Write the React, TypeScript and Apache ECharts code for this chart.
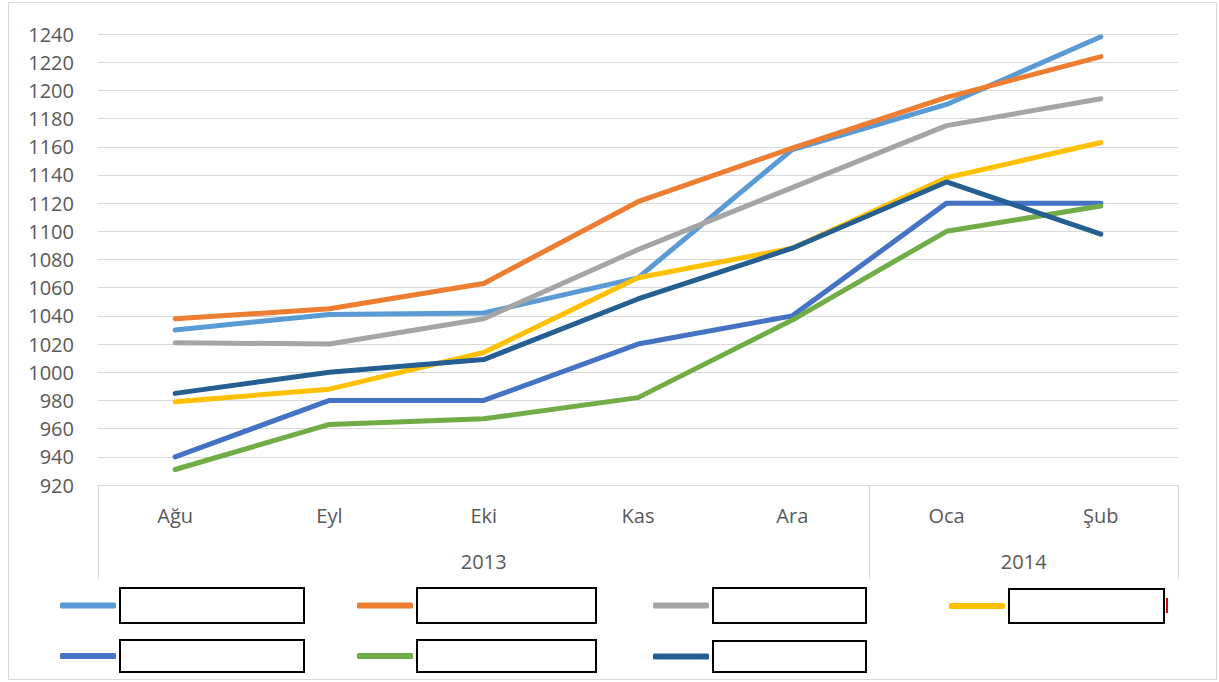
import React, { useEffect, useRef } from "react";
import * as echarts from "echarts";

const months = ["Ağu", "Eyl", "Eki", "Kas", "Ara", "Oca", "Şub"];
const years = ["2013", "2014"];
const monthsPerYear = [5, 2];
const yTickMin = 920;
const yTickMax = 1240;
const yTickStep = 20;

const seriesNames = ["Seri 1", "Seri 2", "Seri 3", "Seri 4", "Seri 5", "Seri 6", "Seri 7"];
const seriesColors = ["#5B9BD5", "#ED7D31", "#A5A5A5", "#FFC000", "#4472C4", "#70AD47", "#255E91"];

const s1 = [1030, 1041, 1042, 1067, 1158, 1190, 1238];
const s2 = [1038, 1045, 1063, 1121, 1159, 1195, 1224];
const s3 = [1021, 1020, 1038, 1087, 1131, 1175, 1194];
const s4 = [979, 988, 1014, 1067, 1088, 1138, 1163];
const s5 = [940, 980, 980, 1020, 1040, 1120, 1120];
const s6 = [931, 963, 967, 982, 1037, 1100, 1118];
const s7 = [985, 1000, 1009, 1052, 1088, 1135, 1098];
const seriesValues = [s1, s2, s3, s4, s5, s6, s7];

const FONT = "'Open Sans', 'Noto Sans', sans-serif";

export default function App() {
  const ref = useRef<HTMLDivElement>(null);
  useEffect(() => {
    document.body.style.margin = "0";
    const chart = echarts.init(ref.current!, null, { renderer: "svg" });

    // year boundaries & centers from data
    const bounds: number[] = [0];
    const centers: number[] = [];
    let acc = 0;
    monthsPerYear.forEach((n) => {
      centers.push(acc + n / 2);
      acc += n;
      bounds.push(acc);
    });

    // legend layout (two rows, four columns)
    const legendPos = [
      { left: 60, top: 587, w: 182, h: 33 },
      { left: 357, top: 587, w: 177, h: 33 },
      { left: 653, top: 587, w: 151, h: 33 },
      { left: 949, top: 588, w: 153, h: 32 },
      { left: 60, top: 639, w: 182, h: 30 },
      { left: 357, top: 639, w: 177, h: 30 },
      { left: 653, top: 640, w: 151, h: 29 },
    ];

    const legends = seriesNames.map((name, i) => ({
      data: [name],
      left: legendPos[i].left,
      top: legendPos[i].top,
      padding: 0,
      icon: "roundRect",
      itemWidth: 56,
      itemHeight: 6,
      selectedMode: false,
      formatter: () => " ",
      textStyle: {
        width: legendPos[i].w,
        height: legendPos[i].h,
        backgroundColor: "#fff",
        borderColor: "#000",
        borderWidth: 2,
        padding: 0,
        fontSize: 1,
      },
    }));

    chart.setOption({
      animation: false,
      backgroundColor: "#fff",
      grid: { left: 98, right: 41, top: 34, bottom: 197, containLabel: false },
      legend: legends,
      xAxis: [
        {
          type: "category",
          data: months,
          boundaryGap: true,
          axisLine: { show: true, lineStyle: { color: "#d9d9d9", width: 1 } },
          axisTick: { show: false },
          axisLabel: { color: "#595959", fontSize: 20, fontFamily: FONT, margin: 20 },
        },
        {
          type: "value",
          min: 0,
          max: bounds[bounds.length - 1],
          position: "bottom",
          axisLine: { show: false },
          splitLine: { show: false },
          axisTick: {
            show: true,
            customValues: bounds,
            length: 94,
            lineStyle: { color: "#d9d9d9", width: 1 },
          },
          axisLabel: {
            customValues: centers,
            formatter: (v: number) => {
              const idx = centers.findIndex((c) => Math.abs(c - v) < 1e-6);
              return idx >= 0 ? years[idx] : "";
            },
            color: "#595959",
            fontSize: 20,
            fontFamily: FONT,
            margin: 66,
          },
        },
      ],
      yAxis: {
        type: "value",
        min: yTickMin,
        max: yTickMax,
        interval: yTickStep,
        axisLine: { show: false },
        axisTick: { show: false },
        splitLine: { lineStyle: { color: "#d9d9d9", width: 1 } },
        axisLabel: {
          color: "#595959",
          fontSize: 20,
          fontFamily: FONT,
          margin: 24,
          formatter: (v: number) => String(v),
        },
      },
      series: seriesNames.map((name, i) => ({
        name,
        type: "line",
        xAxisIndex: 0,
        data: seriesValues[i],
        symbol: "none",
        color: seriesColors[i],
        lineStyle: { width: 5, color: seriesColors[i], cap: "round", join: "round" },
      })),
      graphic: [
        {
          type: "rect",
          shape: { x: 8.5, y: 2.5, width: 1208, height: 677 },
          style: { fill: "none", stroke: "#d9d9d9", lineWidth: 1 },
          silent: true,
          z: -10,
        },
        {
          type: "rect",
          shape: { x: 1166, y: 598, width: 2, height: 15 },
          style: { fill: "#e00000" },
          silent: true,
        },
      ],
    });
    return () => chart.dispose();
  }, []);
  return <div ref={ref} style={{ width: 1219, height: 682 }} />;
}
